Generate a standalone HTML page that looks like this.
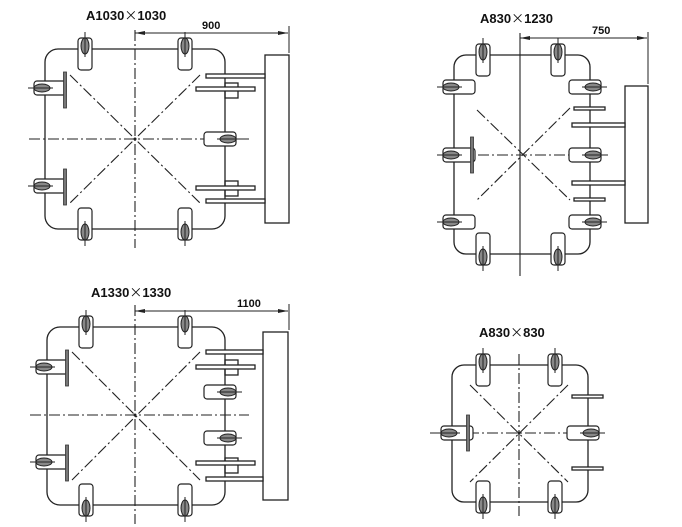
<!DOCTYPE html>
<html><head><meta charset="utf-8"><style>
html,body{margin:0;padding:0;background:#fff;}
svg{display:block;}
text{font-family:"Liberation Sans","Noto Sans CJK JP",sans-serif;font-weight:bold;fill:#111;}
.x{font-family:"Noto Sans CJK JP",sans-serif;font-weight:normal;}
</style></head><body>
<svg width="682" height="527" viewBox="0 0 682 527" xmlns="http://www.w3.org/2000/svg">
<defs>
<g id="dg">
<rect x="-7" y="-11" width="14" height="32" rx="3" fill="#fff" stroke="#222" stroke-width="1.2"/>
<ellipse cx="0" cy="-3" rx="4" ry="8" fill="#888" stroke="#222" stroke-width="1"/>
<line x1="0" y1="-17" x2="0" y2="8" stroke="#222" stroke-width="1"/>
</g>
<g id="vb"><rect x="-1.5" y="-18" width="3" height="36" fill="#777" stroke="#333" stroke-width="0.8"/></g>
</defs>
<g fill="none" stroke="#222" stroke-width="1.3">

<rect x="45" y="49" width="180" height="180" rx="13"/>
<g stroke-dasharray="11 3 2 3" stroke-width="1.1">
<line x1="135" y1="30" x2="135" y2="248"/>
<line x1="29" y1="139" x2="249" y2="139"/>
<line x1="70" y1="75" x2="200" y2="203"/>
<line x1="200" y1="75" x2="70" y2="203"/>
</g>
<line x1="135" y1="33" x2="288" y2="33" stroke-width="1"/>
<line x1="289" y1="26" x2="289" y2="53" stroke-width="1"/>
<rect x="265" y="55" width="24" height="168"/>
<rect x="225" y="83" width="13" height="15"/>
<rect x="225" y="181" width="13" height="15"/>
<rect x="206" y="74" width="59" height="4" fill="#fff"/>
<rect x="196" y="87" width="59" height="4" fill="#fff"/>
<rect x="196" y="186" width="59" height="4" fill="#fff"/>
<rect x="206" y="199" width="59" height="4" fill="#fff"/>

<rect x="454" y="55" width="136" height="199" rx="12"/>
<line x1="520" y1="33" x2="520" y2="276" stroke-width="1.1"/>
<g stroke-dasharray="11 3 2 3" stroke-width="1.1">
<line x1="440" y1="155" x2="608" y2="155"/>
<line x1="477" y1="110" x2="570" y2="200"/>
<line x1="570" y1="108" x2="477" y2="200"/>
</g>
<line x1="520" y1="38" x2="647" y2="38" stroke-width="1"/>
<line x1="648" y1="32" x2="648" y2="84" stroke-width="1"/>
<rect x="625" y="86" width="23" height="137"/>
<rect x="572" y="123" width="53" height="4" fill="#fff"/>
<rect x="572" y="181" width="53" height="4" fill="#fff"/>
<rect x="574" y="107" width="31" height="3" fill="#fff"/>
<rect x="574" y="198" width="31" height="3" fill="#fff"/>

<rect x="47" y="327" width="178" height="178" rx="13"/>
<g stroke-dasharray="11 3 2 3" stroke-width="1.1">
<line x1="135" y1="305" x2="135" y2="524"/>
<line x1="30" y1="415" x2="249" y2="415"/>
<line x1="72" y1="352" x2="200" y2="480"/>
<line x1="200" y1="352" x2="72" y2="480"/>
</g>
<line x1="135" y1="311" x2="288" y2="311" stroke-width="1"/>
<line x1="289" y1="304" x2="289" y2="330" stroke-width="1"/>
<rect x="263" y="332" width="25" height="168"/>
<rect x="225" y="360" width="13" height="15"/>
<rect x="225" y="458" width="13" height="15"/>
<rect x="206" y="350" width="57" height="4" fill="#fff"/>
<rect x="196" y="365" width="59" height="4" fill="#fff"/>
<rect x="196" y="461" width="59" height="4" fill="#fff"/>
<rect x="206" y="477" width="57" height="4" fill="#fff"/>

<rect x="452" y="365" width="136" height="137" rx="12"/>
<g stroke-dasharray="11 3 2 3" stroke-width="1.1">
<line x1="519" y1="354" x2="519" y2="516"/>
<line x1="430" y1="433" x2="605" y2="433"/>
<line x1="470" y1="385" x2="568" y2="482"/>
<line x1="568" y1="385" x2="470" y2="482"/>
</g>
<rect x="572" y="395" width="31" height="3" fill="#fff"/>
<rect x="572" y="467" width="31" height="3" fill="#fff"/>
</g>

<use href="#dg" transform="translate(85,49)"/>
<use href="#dg" transform="translate(185,49)"/>
<use href="#dg" transform="translate(85,229) rotate(180)"/>
<use href="#dg" transform="translate(185,229) rotate(180)"/>
<use href="#dg" transform="translate(45,88) rotate(-90)"/>
<use href="#dg" transform="translate(45,186) rotate(-90)"/>
<use href="#dg" transform="translate(225,139) rotate(90)"/>
<use href="#vb" transform="translate(65,90)"/>
<use href="#vb" transform="translate(65,187)"/>
<use href="#dg" transform="translate(483,55)"/>
<use href="#dg" transform="translate(558,55)"/>
<use href="#dg" transform="translate(483,254) rotate(180)"/>
<use href="#dg" transform="translate(558,254) rotate(180)"/>
<use href="#dg" transform="translate(454,87) rotate(-90)"/>
<use href="#dg" transform="translate(454,155) rotate(-90)"/>
<use href="#dg" transform="translate(454,222) rotate(-90)"/>
<use href="#dg" transform="translate(590,87) rotate(90)"/>
<use href="#dg" transform="translate(590,155) rotate(90)"/>
<use href="#dg" transform="translate(590,222) rotate(90)"/>
<use href="#vb" transform="translate(472,155)"/>
<use href="#dg" transform="translate(86,327)"/>
<use href="#dg" transform="translate(185,327)"/>
<use href="#dg" transform="translate(86,505) rotate(180)"/>
<use href="#dg" transform="translate(185,505) rotate(180)"/>
<use href="#dg" transform="translate(47,367) rotate(-90)"/>
<use href="#dg" transform="translate(47,462) rotate(-90)"/>
<use href="#dg" transform="translate(225,392) rotate(90)"/>
<use href="#dg" transform="translate(225,438) rotate(90)"/>
<use href="#vb" transform="translate(67,368)"/>
<use href="#vb" transform="translate(67,463)"/>
<use href="#dg" transform="translate(483,365)"/>
<use href="#dg" transform="translate(555,365)"/>
<use href="#dg" transform="translate(483,502) rotate(180)"/>
<use href="#dg" transform="translate(555,502) rotate(180)"/>
<use href="#dg" transform="translate(452,433) rotate(-90)"/>
<use href="#dg" transform="translate(588,433) rotate(90)"/>
<use href="#vb" transform="translate(468,433)"/>

<g fill="#222">
<polygon points="135,33 145,31 145,35"/><polygon points="288,33 278,31 278,35"/>
<polygon points="520,38 530,36 530,40"/><polygon points="647,38 637,36 637,40"/>
<polygon points="135,311 145,309 145,313"/><polygon points="288,311 278,309 278,313"/>
</g>
<circle cx="135" cy="139" r="1.5" fill="#222"/>
<circle cx="135" cy="415" r="1.5" fill="#222"/>
<circle cx="519" cy="433" r="1.5" fill="#222"/>

<text x="86" y="20" font-size="13">A1030<tspan class="x">×</tspan>1030</text>
<text x="202" y="29" font-size="11">900</text>
<text x="480" y="23" font-size="13">A830<tspan class="x">×</tspan>1230</text>
<text x="592" y="34" font-size="11">750</text>
<text x="91" y="297" font-size="13">A1330<tspan class="x">×</tspan>1330</text>
<text x="237" y="307" font-size="11">1100</text>
<text x="479" y="337" font-size="13">A830<tspan class="x">×</tspan>830</text>
</svg>
</body></html>
